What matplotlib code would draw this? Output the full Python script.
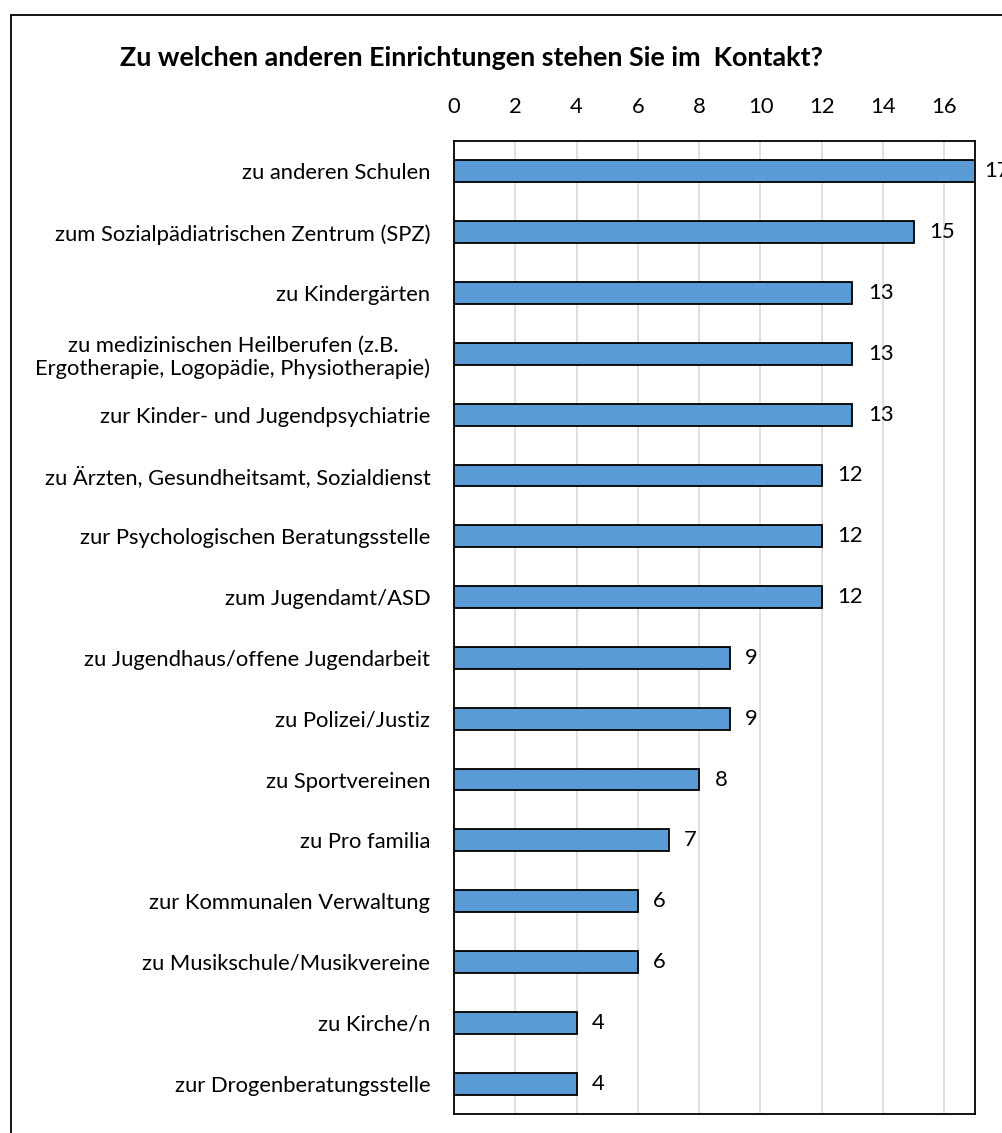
import matplotlib.pyplot as plt
from matplotlib.patches import Rectangle

# Daten aus der Umfrage
kategorien = [
    'zu anderen Schulen',
    'zum Sozialpädiatrischen Zentrum (SPZ)',
    'zu Kindergärten',
    'zu medizinischen Heilberufen (z.B.\nErgotherapie, Logopädie, Physiotherapie)',
    'zur Kinder- und Jugendpsychiatrie',
    'zu Ärzten, Gesundheitsamt, Sozialdienst',
    'zur Psychologischen Beratungsstelle',
    'zum Jugendamt/ASD',
    'zu Jugendhaus/offene Jugendarbeit',
    'zu Polizei/Justiz',
    'zu Sportvereinen',
    'zu Pro familia',
    'zur Kommunalen Verwaltung',
    'zu Musikschule/Musikvereine',
    'zu Kirche/n',
    'zur Drogenberatungsstelle',
]
anzahl = [17, 15, 13, 13, 13, 12, 12, 12, 9, 9, 8, 7, 6, 6, 4, 4]
ticks = [0, 2, 4, 6, 8, 10, 12, 14, 16]

plt.rcParams['font.family'] = ['Lato', 'DejaVu Sans']
fs = 15.8
xmax = 17

fig = plt.figure(figsize=(10.02, 11.33), dpi=100)
ax = fig.add_axes([454 / 1002, 1 - 1114 / 1133, (975 - 454) / 1002, (1114 - 141) / 1133])

pos = list(range(len(kategorien)))
ax.barh(pos, anzahl, height=0.36, color='#5B9BD5', edgecolor='black', linewidth=1.3, zorder=3)
for p, v in zip(pos, anzahl):
    # wie in Excel: Beschriftung am Rand etwas näher an den Balken
    off = 0.3 if v >= xmax else 0.5
    ax.text(v + off, p, str(v), va='center', ha='left', fontsize=fs, clip_on=False)

ax.set_xlim(0, xmax)
ax.set_ylim(len(kategorien) - 0.5, -0.5)
ax.set_yticks(pos)
ax.set_yticklabels(kategorien, fontsize=fs)
for lab in ax.get_yticklabels():
    lab.set_multialignment('center')
ax.set_xticks(ticks)
ax.xaxis.tick_top()
ax.tick_params(axis='both', length=0, labelsize=fs)
ax.tick_params(axis='y', pad=17)
ax.tick_params(axis='x', pad=17)
ax.grid(axis='x', color='#D9D9D9', linewidth=1.2, zorder=0)
for s in ax.spines.values():
    s.set_color('black')
    s.set_linewidth(1.3)

fig.text(471 / 1002, 1 - 58 / 1133, 'Zu welchen anderen Einrichtungen stehen Sie im  Kontakt?',
         ha='center', va='center', fontsize=19.4, fontweight='bold')

# Rahmen um das Diagramm
fig.patches.append(Rectangle((11 / 1002, -0.1), 1.2, 1 - 15 / 1133 + 0.1, transform=fig.transFigure,
                             fill=False, edgecolor='black', linewidth=1.3))

fig.savefig('out.png', dpi=100)
